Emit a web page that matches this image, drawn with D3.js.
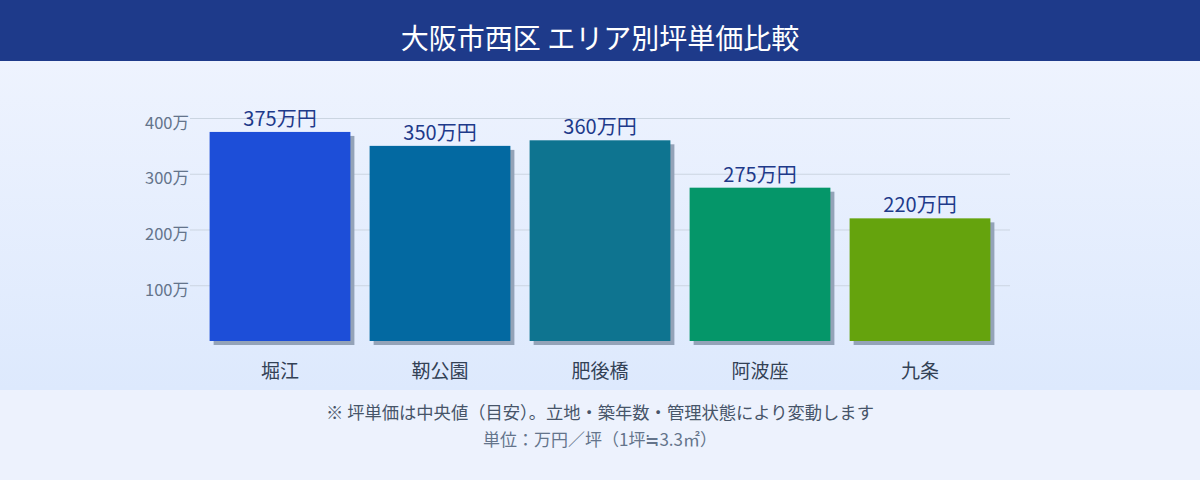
<!DOCTYPE html>
<html>
<head>
<meta charset="utf-8">
<script src="https://cdn.jsdelivr.net/npm/d3@7"></script>
<style>
html, body { margin: 0; padding: 0; background: #edf2fd; }
svg { display: block; font-family: "Noto Sans CJK JP", "Noto Sans", sans-serif; }
</style>
</head>
<body>
<div id="chart"></div>
<script>
// data
var areas = ['堀江', '靭公園', '肥後橋', '阿波座', '九条'];
var prices = [375, 350, 360, 275, 220];
var barColors = ['#1d4ed8', '#0369a1', '#0e7490', '#059669', '#65a30d'];
var yTicks = [100, 200, 300, 400];
var title = '大阪市西区 エリア別坪単価比較';
var note1 = '※ 坪単価は中央値（目安）。立地・築年数・管理状態により変動します';
var note2 = '単位：万円／坪（1坪≒3.3㎡）';

var width = 1200, height = 480;
var svg = d3.select('#chart').append('svg')
    .attr('width', width)
    .attr('height', height);

var defs = svg.append('defs');
var grad = defs.append('linearGradient')
    .attr('id', 'bg').attr('x1', 0).attr('y1', 0).attr('x2', 0).attr('y2', 1);
grad.append('stop').attr('offset', '0%').attr('stop-color', '#eef3fe');
grad.append('stop').attr('offset', '100%').attr('stop-color', '#dde9fd');

// backgrounds
svg.append('rect').attr('width', width).attr('height', height).attr('fill', '#edf2fd');
svg.append('rect').attr('y', 61).attr('width', width).attr('height', 329).attr('fill', 'url(#bg)');
svg.append('rect').attr('width', width).attr('height', 61).attr('fill', '#1e3a8a');

svg.append('text')
    .attr('x', width / 2).attr('y', 49)
    .attr('text-anchor', 'middle')
    .attr('fill', '#ffffff')
    .attr('font-size', 28)
    .text(title);

var x = d3.scaleBand()
    .domain(areas)
    .range([190, 1010])
    .paddingInner(0.12)
    .paddingOuter(0.1225);

var y = d3.scaleLinear()
    .domain([0, 400])
    .range([341, 118]);

// gridlines
svg.append('g')
    .selectAll('line')
    .data(yTicks)
    .enter().append('line')
    .attr('x1', 190).attr('x2', 1010)
    .attr('y1', function(d) { return y(d) + 0.5; })
    .attr('y2', function(d) { return y(d) + 0.5; })
    .attr('stroke', '#cbd5e1')
    .attr('stroke-width', 1);

// y axis labels
var yAxis = d3.axisLeft(y)
    .tickValues(yTicks)
    .tickSize(0)
    .tickPadding(0)
    .tickFormat(function(d) { return d + '万'; });
var gy = svg.append('g')
    .attr('transform', 'translate(189,0)')
    .call(yAxis);
gy.select('.domain').remove();
gy.selectAll('text')
    .attr('dy', 10)
    .attr('fill', '#64748b')
    .attr('font-size', 16.5)
    .attr('font-family', '"Noto Sans CJK JP", sans-serif');

// bar shadows
svg.append('g')
    .selectAll('rect')
    .data(prices)
    .enter().append('rect')
    .attr('x', function(d, i) { return x(areas[i]) + 4; })
    .attr('y', function(d) { return y(d) + 4; })
    .attr('width', x.bandwidth())
    .attr('height', function(d) { return y(0) - y(d); })
    .attr('fill', '#94a3b8');

// bars
svg.append('g')
    .selectAll('rect')
    .data(prices)
    .enter().append('rect')
    .attr('x', function(d, i) { return x(areas[i]); })
    .attr('y', function(d) { return y(d); })
    .attr('width', x.bandwidth())
    .attr('height', function(d) { return y(0) - y(d); })
    .attr('fill', function(d, i) { return barColors[i]; });

// value labels
svg.append('g')
    .selectAll('text')
    .data(prices)
    .enter().append('text')
    .attr('x', function(d, i) { return x(areas[i]) + x.bandwidth() / 2; })
    .attr('y', function(d) { return y(d) - 6; })
    .attr('text-anchor', 'middle')
    .attr('fill', '#1e3a8a')
    .attr('font-size', 20)
    .text(function(d) { return d + '万円'; });

// category labels
svg.append('g')
    .selectAll('text')
    .data(areas)
    .enter().append('text')
    .attr('x', function(d) { return x(d) + x.bandwidth() / 2; })
    .attr('y', 378)
    .attr('text-anchor', 'middle')
    .attr('fill', '#334155')
    .attr('font-size', 19)
    .text(function(d) { return d; });

// footer notes
svg.append('text')
    .attr('x', width / 2).attr('y', 419)
    .attr('text-anchor', 'middle')
    .attr('fill', '#475569')
    .attr('font-size', 17.3)
    .text(note1);
svg.append('text')
    .attr('x', width / 2).attr('y', 446)
    .attr('text-anchor', 'middle')
    .attr('fill', '#64748b')
    .attr('font-size', 17)
    .text(note2);
</script>
</body>
</html>
